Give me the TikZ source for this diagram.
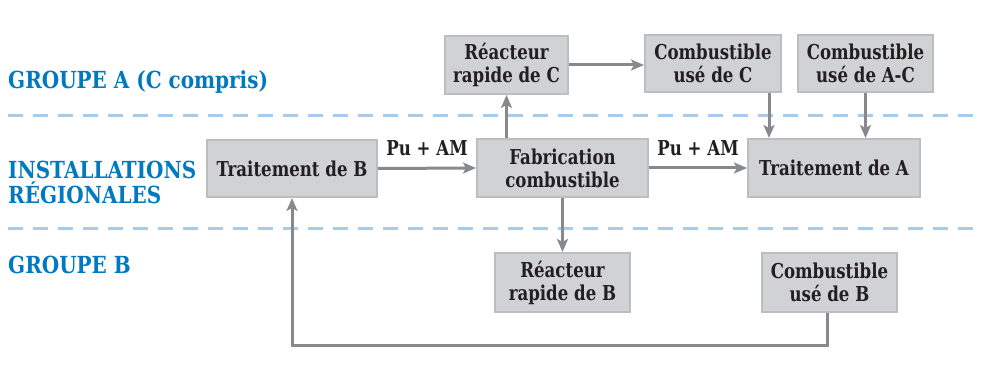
\documentclass[tikz,border=0pt]{standalone}
\usepackage{fontspec}
\usetikzlibrary{arrows.meta,calc}
\newfontfamily\slabfont[FakeStretch=0.81]{DejaVu Serif}
\newfontfamily\grpfont[FakeStretch=0.85]{DejaVu Serif}
\definecolor{boxfill}{HTML}{D1D2D4}
\definecolor{boxline}{HTML}{BCBDC0}
\definecolor{inkdark}{HTML}{231F20}
\definecolor{arrowgray}{HTML}{88898C}
\definecolor{grpblue}{HTML}{0079C1}
\definecolor{dashblue}{HTML}{A9CBEA}
\tikzset{
  procbox/.style={draw=boxline, fill=boxfill, line width=2pt, inner sep=0pt,
    text=inkdark, align=center, font=\slabfont\bfseries\fontsize{20.5}{23}\selectfont},
  flow/.style={draw=arrowgray, line width=3pt, -{Stealth[length=13pt,width=11pt,inset=3pt]}},
  grplabel/.style={anchor=west, inner sep=0pt, text=grpblue, align=left,
    font=\grpfont\bfseries\fontsize{23.5}{25}\selectfont},
  flowlabel/.style={inner sep=0pt, text=inkdark, font=\slabfont\bfseries\fontsize{20.5}{22}\selectfont},
  sep/.style={draw=dashblue, line width=3pt, dash pattern=on 15pt off 10pt}
}
\begin{document}
\begin{tikzpicture}[x=1pt,y=-1pt]
\useasboundingbox (0,0) rectangle (982,379);
% separators
\coordinate (s1a) at (8,116); \coordinate (s1b) at (982,116);
\coordinate (s2a) at (8,229); \coordinate (s2b) at (982,229);
\draw[sep] (s1a) -- (s1b);
\draw[sep] (s2a) -- (s2b);
% group labels
\node[grplabel] (ga) at (8,82) {GROUPE A (C compris)};
\node[grplabel] (ir) at (8,182) {INSTALLATIONS\\RÉGIONALES};
\node[grplabel] (gb) at (8,265) {GROUPE B};
% boxes
\node[procbox, minimum width=123pt, minimum height=58pt] (rc) at (506.5,65) {Réacteur\\rapide de C};
\node[procbox, minimum width=136pt, minimum height=57pt] (cuc) at (713,63.5) {Combustible\\usé de C};
\node[procbox, minimum width=135pt, minimum height=57pt] (cuac) at (865.5,63.5) {Combustible\\usé de A-C};
\node[procbox, minimum width=170pt, minimum height=57pt] (tb) at (292,168.5) {Traitement de B};
\node[procbox, minimum width=171pt, minimum height=58pt] (fab) at (562.5,168) {Fabrication\\combustible};
\node[procbox, minimum width=172pt, minimum height=58pt] (ta) at (834,168) {Traitement de A};
\node[procbox, minimum width=135pt, minimum height=59pt] (rb) at (562.5,282.5) {Réacteur\\rapide de B};
\node[procbox, minimum width=135pt, minimum height=59pt] (cub) at (829.5,282.5) {Combustible\\usé de B};
% flow labels
\node[flowlabel] (pu1) at (427,148) {Pu + AM};
\node[flowlabel] (pu2) at (698,148) {Pu + AM};
% connectors
\draw[flow] (tb.east) -- (fab.west);
\draw[flow] (fab.east) -- (ta.west);
\draw[flow] (fab.north -| rc.south) -- (rc.south);
\draw[flow] (rc.east) -- (rc.east -| cuc.west);
\coordinate (cucout) at ($(cuc.south east)+(-13,0)$);
\draw[flow] (cucout) -- (cucout |- ta.north);
\draw[flow] (cuac.south) -- (cuac.south |- ta.north);
\draw[flow] (fab.south) -- (rb.north);
\coordinate (loopc) at ($(cub.south)+(-2.5,0)$);
\draw[flow] (loopc) -- ++(0,32) -| (tb.south);
\end{tikzpicture}
\end{document}
